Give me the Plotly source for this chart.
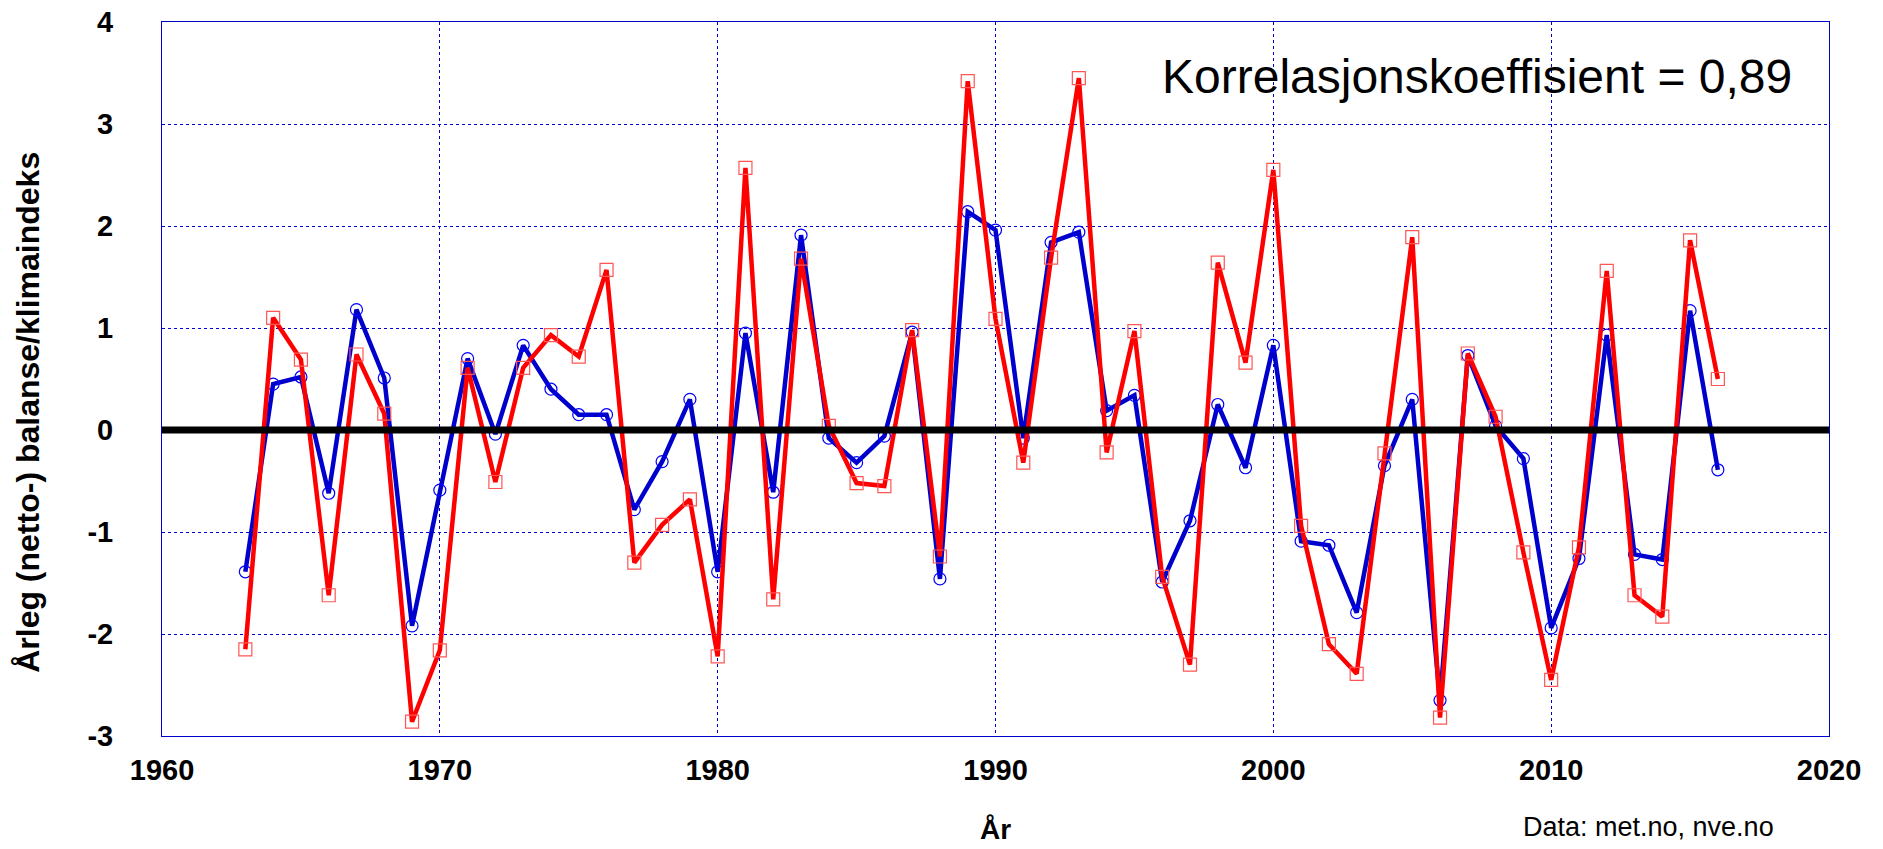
import plotly.graph_objects as go

years = [1963, 1964, 1965, 1966, 1967, 1968, 1969, 1970, 1971, 1972,
         1973, 1974, 1975, 1976, 1977, 1978, 1979, 1980, 1981, 1982,
         1983, 1984, 1985, 1986, 1987, 1988, 1989, 1990, 1991, 1992,
         1993, 1994, 1995, 1996, 1997, 1998, 1999, 2000, 2001, 2002,
         2003, 2004, 2005, 2006, 2007, 2008, 2009, 2010, 2011, 2012,
         2013, 2014, 2015, 2016]

balanse = [-1.39, 0.45, 0.52, -0.62, 1.18, 0.51, -1.92, -0.59, 0.70, -0.04,
           0.83, 0.40, 0.15, 0.15, -0.78, -0.31, 0.30, -1.39, 0.95, -0.61,
           1.91, -0.08, -0.32, -0.06, 0.96, -1.46, 2.14, 1.96, -0.08, 1.84,
           1.94, 0.19, 0.34, -1.49, -0.89, 0.25, -0.37, 0.83, -1.09, -1.13,
           -1.79, -0.35, 0.30, -2.65, 0.73, 0.04, -0.28, -1.94, -1.26, 0.93,
           -1.22, -1.27, 1.17, -0.39]

klimaindeks = [-2.15, 1.10, 0.69, -1.62, 0.74, 0.16, -2.86, -2.16, 0.61, -0.51,
               0.61, 0.93, 0.72, 1.57, -1.30, -0.93, -0.68, -2.22, 2.57, -1.66,
               1.68, 0.04, -0.52, -0.55, 0.98, -1.24, 3.42, 1.09, -0.32, 1.69,
               3.45, -0.22, 0.97, -1.44, -2.30, 1.64, 0.66, 2.55, -0.94, -2.10,
               -2.39, -0.23, 1.89, -2.82, 0.75, 0.13, -1.20, -2.45, -1.15, 1.56,
               -1.62, -1.83, 1.86, 0.50]

x_ticks = [1960, 1970, 1980, 1990, 2000, 2010, 2020]
y_ticks = [-3, -2, -1, 0, 1, 2, 3, 4]

FONT = "Liberation Sans, Arial, sans-serif"
GRID = "#0000CC"

fig = go.Figure()

fig.add_trace(go.Scatter(
    x=years, y=balanse, mode="lines+markers", name="Balanse",
    line=dict(color="#0000CC", width=4.5),
    marker=dict(symbol="circle-open", size=12, color="#0000FF",
                line=dict(width=1.2, color="#0000FF")),
))
fig.add_trace(go.Scatter(
    x=years, y=klimaindeks, mode="lines+markers", name="Klimaindeks",
    line=dict(color="#FF0000", width=4.5),
    marker=dict(symbol="square-open", size=13, color="#FF5555",
                line=dict(width=1.2, color="#FF5555")),
))

fig.add_shape(type="line", xref="paper", x0=0, x1=1, yref="y", y0=0, y1=0,
              line=dict(color="black", width=7), layer="above")

fig.add_annotation(text="Korrelasjonskoeffisient = 0,89", xref="paper", yref="paper",
                   x=0.789, y=0.923, xanchor="center", yanchor="middle", showarrow=False,
                   font=dict(family=FONT, size=48, color="black"))
fig.add_annotation(text="Data: met.no, nve.no", xref="paper", yref="paper",
                   x=0.892, y=-0.128, xanchor="center", yanchor="middle", showarrow=False,
                   font=dict(family=FONT, size=27, color="black"))
# y-axis title (rotated text, shifted below the plot centre like the original)
fig.add_annotation(text="Årleg (netto-) balanse/klimaindeks", xref="paper", yref="paper",
                   x=-0.0804, y=0.454, xanchor="center", yanchor="middle", showarrow=False,
                   textangle=-90,
                   font=dict(family=FONT, size=32, color="black", weight="bold"))

fig.update_layout(
    width=1883, height=849,
    margin=dict(l=162, r=54, t=22, b=113),
    paper_bgcolor="white", plot_bgcolor="white",
    showlegend=False,
    font=dict(family=FONT, color="black"),
    xaxis=dict(
        range=[1960, 2020], tickvals=x_ticks, ticktext=[str(v) for v in x_ticks],
        showgrid=True, gridcolor=GRID, griddash="dot", gridwidth=1,
        showline=True, linecolor=GRID, linewidth=1, mirror=True,
        zeroline=False, ticks="", ticklabelstandoff=8, automargin=False,
        tickfont=dict(family=FONT, size=29, color="black", weight="bold"),
        title=dict(text="År", standoff=34,
                   font=dict(family=FONT, size=28, color="black", weight="bold")),
    ),
    yaxis=dict(
        range=[-3, 4], tickvals=y_ticks, ticktext=[str(v) for v in y_ticks],
        showgrid=True, gridcolor=GRID, griddash="dot", gridwidth=1,
        showline=True, linecolor=GRID, linewidth=1, mirror=True,
        zeroline=False, ticks="", ticklabelstandoff=42, automargin=False,
        tickfont=dict(family=FONT, size=29, color="black", weight="bold"),
    ),
)

# remove the browser's default 8px body margin so the figure fills the window exactly
fig.write_html("out.html", config={"displayModeBar": False},
               post_script="document.body.style.margin='0';document.body.style.overflow='hidden';")
